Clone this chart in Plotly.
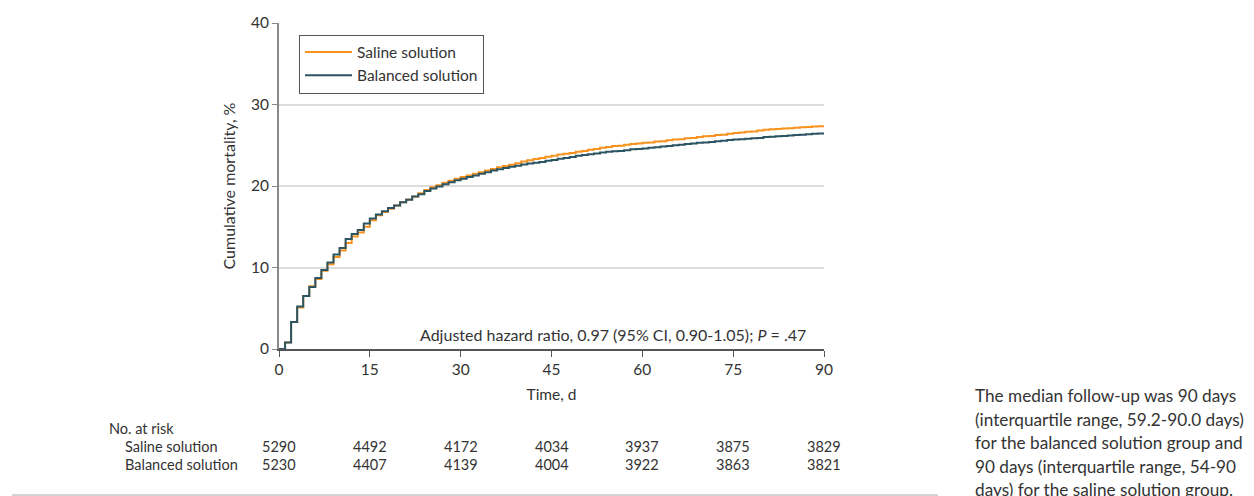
import plotly.graph_objects as go

# ---------------- data ----------------
days = list(range(0, 91))

saline = [0.0, 0.8, 3.3, 5.1, 6.5, 7.7, 8.6, 9.6, 10.4, 11.3,
          12.1, 13.0, 13.8, 14.3, 15.0, 15.8, 16.4, 16.8, 17.2, 17.6,
          18.0, 18.35, 18.7, 19.1, 19.5, 19.85, 20.1, 20.4, 20.65, 20.9,
          21.1, 21.3, 21.5, 21.7, 21.9, 22.1, 22.3, 22.45, 22.6, 22.8,
          23.0, 23.15, 23.3, 23.45, 23.6, 23.7, 23.85, 23.95, 24.05, 24.2,
          24.3, 24.45, 24.55, 24.7, 24.8, 24.9, 24.95, 25.05, 25.15, 25.2,
          25.3, 25.35, 25.45, 25.5, 25.6, 25.7, 25.75, 25.85, 25.9, 26.0,
          26.1, 26.15, 26.25, 26.3, 26.4, 26.5, 26.55, 26.65, 26.7, 26.8,
          26.9, 26.95, 27.0, 27.05, 27.1, 27.15, 27.2, 27.25, 27.3, 27.33,
          27.35]

balanced = [0.0, 0.8, 3.3, 5.2, 6.5, 7.6, 8.7, 9.7, 10.6, 11.6,
            12.4, 13.5, 14.1, 14.6, 15.4, 16.0, 16.5, 16.9, 17.3, 17.6,
            18.0, 18.3, 18.7, 19.0, 19.4, 19.7, 19.95, 20.2, 20.45, 20.7,
            20.9, 21.1, 21.3, 21.5, 21.7, 21.9, 22.05, 22.2, 22.35, 22.5,
            22.65, 22.75, 22.85, 22.95, 23.1, 23.2, 23.35, 23.45, 23.55, 23.7,
            23.8, 23.9, 24.0, 24.1, 24.2, 24.25, 24.3, 24.4, 24.5, 24.55,
            24.6, 24.7, 24.75, 24.85, 24.9, 25.0, 25.05, 25.15, 25.2, 25.3,
            25.35, 25.4, 25.5, 25.55, 25.65, 25.7, 25.75, 25.8, 25.85, 25.9,
            26.0, 26.05, 26.1, 26.15, 26.2, 26.25, 26.3, 26.35, 26.4, 26.45,
            26.5]

x_ticks = [0, 15, 30, 45, 60, 75, 90]
y_ticks = [0, 10, 20, 30, 40]

risk_label = "No. at risk"
risk_groups = ["Saline solution", "Balanced solution"]
risk_saline = [5290, 4492, 4172, 4034, 3937, 3875, 3829]
risk_balanced = [5230, 4407, 4139, 4004, 3922, 3863, 3821]

hr_text = "Adjusted hazard ratio, 0.97 (95% CI, 0.90-1.05); <i>P</i> = .47"

caption_lines = [
    "The median follow-up was 90 days",
    "(interquartile range, 59.2-90.0 days)",
    "for the balanced solution group and",
    "90 days (interquartile range, 54-90",
    "days) for the saline solution group.",
]

# ---------------- style ----------------
FONT = "Lato"
TXT = "#333333"
ORANGE = "#F7931E"
TEAL = "#2C5564"

W, H = 1254, 496
L, R, T, B = 279, 1254 - 824, 23, 496 - 349
PW, PH = W - L - R, H - T - B


def px_x(px):
    return (px - L) / PW


def px_y(py):
    return (H - B - py) / PH


fig = go.Figure()
fig.add_trace(go.Scatter(x=days, y=saline, mode="lines", line_shape="hv",
                         name="Saline solution",
                         line=dict(color=ORANGE, width=2)))
fig.add_trace(go.Scatter(x=days, y=balanced, mode="lines", line_shape="hv",
                         name="Balanced solution",
                         line=dict(color=TEAL, width=2)))

annotations = []
annotations.append(dict(x=55.1, y=1.75, xref="x", yref="y", text=hr_text,
                        showarrow=False, xanchor="center", yanchor="middle",
                        font=dict(family=FONT, size=16, color=TXT)))

# number at risk table
annotations.append(dict(x=px_x(107), y=px_y(428), xref="paper", yref="paper",
                        text=risk_label, showarrow=False, xanchor="left",
                        yanchor="middle", font=dict(family=FONT, size=14.5, color=TXT)))
row_y = [446, 464.5]
for gi, (grp, vals) in enumerate(zip(risk_groups, [risk_saline, risk_balanced])):
    annotations.append(dict(x=px_x(123), y=px_y(row_y[gi]), xref="paper", yref="paper",
                            text=grp, showarrow=False, xanchor="left", yanchor="middle",
                            font=dict(family=FONT, size=14.5, color=TXT)))
    for xv, v in zip(x_ticks, vals):
        annotations.append(dict(x=xv, y=px_y(row_y[gi]), xref="x", yref="paper",
                                text=str(v), showarrow=False, xanchor="center",
                                yanchor="middle",
                                font=dict(family=FONT, size=14.5, color=TXT)))

# caption at right
cap_y0, cap_dy = 395.5, 23.6
for i, line in enumerate(caption_lines):
    annotations.append(dict(x=px_x(973), y=px_y(cap_y0 + i * cap_dy), xref="paper",
                            yref="paper", text=line, showarrow=False, xanchor="left",
                            yanchor="middle",
                            font=dict(family=FONT, size=17.2, color=TXT)))

shapes = [dict(type="line", xref="paper", yref="paper",
               x0=px_x(12), x1=px_x(938), y0=px_y(495), y1=px_y(495),
               line=dict(color="#AAAAAA", width=1.2))]

fig.update_layout(
    width=W, height=H, autosize=False,
    margin=dict(l=L, r=R, t=T, b=B, pad=0),
    paper_bgcolor="white", plot_bgcolor="white",
    font=dict(family=FONT, size=15, color=TXT),
    showlegend=True,
    legend=dict(x=px_x(299), y=px_y(34.5), xanchor="left", yanchor="top",
                bgcolor="white", bordercolor="#555555", borderwidth=1,
                font=dict(family=FONT, size=15.5, color=TXT),
                itemwidth=47, tracegroupgap=0),
    annotations=annotations,
    shapes=shapes,
)

fig.update_xaxes(range=[0, 90], tickvals=x_ticks, ticks="outside", ticklen=6,
                 tickwidth=1.2, tickcolor="#555555", showline=True,
                 linecolor="#555555", linewidth=1.5, showgrid=False, zeroline=False,
                 tickfont=dict(family=FONT, size=15.5, color=TXT),
                 title=dict(text="Time, d", standoff=12,
                            font=dict(family=FONT, size=15.5, color=TXT)))
fig.update_yaxes(range=[0, 40], tickvals=y_ticks, ticks="outside", ticklen=5,
                 tickwidth=1.2, tickcolor="#888888", showline=True,
                 linecolor="#888888", linewidth=2, showgrid=True,
                 gridcolor="#DDDDDD", gridwidth=1.5, zeroline=False,
                 tickfont=dict(family=FONT, size=15.5, color=TXT),
                 title=dict(text="Cumulative mortality, %", standoff=11,
                            font=dict(family=FONT, size=16, color=TXT)))

fig.write_html("out.html", config={"displayModeBar": False},
               post_script="document.body.style.margin='0';")
